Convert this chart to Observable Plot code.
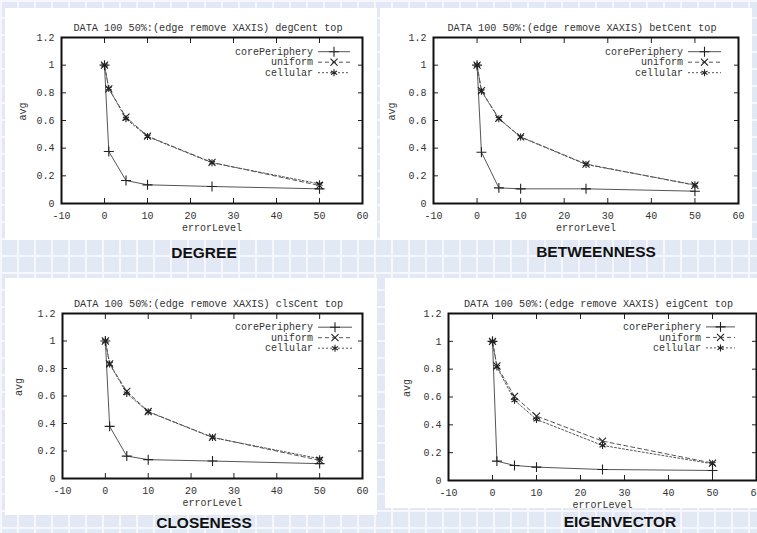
<!DOCTYPE html>
<html>
<head>
<meta charset="utf-8">
<script src="https://cdn.jsdelivr.net/npm/d3@7"></script>
<script src="https://cdn.jsdelivr.net/npm/@observablehq/plot@0.6"></script>
<style>
  html, body { margin: 0; padding: 0; }
  #page {
    position: relative; width: 757px; height: 533px; overflow: hidden;
    background-color: #e2e9f5;
    background-image:
      linear-gradient(to right, #f5f7fc 2px, transparent 2px),
      linear-gradient(to bottom, #f5f7fc 2px, transparent 2px);
    background-size: 17px 17px;
  }
  .panel { position: absolute; }
  .panel svg { display: block; }
  .caption {
    position: absolute; transform: translate(-50%, -50%);
    font-family: "Liberation Sans", Arial, sans-serif; font-weight: bold;
    font-size: 15.5px; color: #111; white-space: nowrap;
  }
</style>
</head>
<body>
<div id="page"></div>
<script>
// ---------- data ----------
const errorLevel = [0, 1, 5, 10, 25, 50];
const seriesNames = ["corePeriphery", "uniform", "cellular"];
const xTicks = [-10, 0, 10, 20, 30, 40, 50, 60];
const yTicks = [0, 0.2, 0.4, 0.6, 0.8, 1, 1.2];
const yTickLabels = ["0", "0.2", "0.4", "0.6", "0.8", "1", "1.2"];
const xLabel = "errorLevel";
const yLabel = "avg";

const titles = [
  "DATA 100 50%:(edge remove XAXIS) degCent top",
  "DATA 100 50%:(edge remove XAXIS) betCent top",
  "DATA 100 50%:(edge remove XAXIS) clsCent top",
  "DATA 100 50%:(edge remove XAXIS) eigCent top"
];
const captions = ["DEGREE", "BETWEENNESS", "CLOSENESS", "EIGENVECTOR"];

const degreeCore     = [1.0, 0.376, 0.166, 0.135, 0.123, 0.106];
const degreeUniform  = [1.0, 0.829, 0.624, 0.487, 0.297, 0.130];
const degreeCellular = [1.0, 0.832, 0.612, 0.484, 0.294, 0.142];

const betweenCore     = [1.0, 0.371, 0.113, 0.106, 0.106, 0.089];
const betweenUniform  = [1.0, 0.815, 0.615, 0.482, 0.285, 0.132];
const betweenCellular = [1.0, 0.812, 0.612, 0.480, 0.282, 0.135];

const closeCore     = [1.0, 0.379, 0.163, 0.137, 0.127, 0.108];
const closeUniform  = [1.0, 0.833, 0.634, 0.487, 0.300, 0.132];
const closeCellular = [1.0, 0.833, 0.619, 0.485, 0.298, 0.144];

const eigenCore     = [1.0, 0.139, 0.108, 0.096, 0.079, 0.072];
const eigenUniform  = [1.0, 0.823, 0.605, 0.463, 0.283, 0.125];
const eigenCellular = [1.0, 0.816, 0.576, 0.439, 0.252, 0.120];

const panelValues = [
  [degreeCore, degreeUniform, degreeCellular],
  [betweenCore, betweenUniform, betweenCellular],
  [closeCore, closeUniform, closeCellular],
  [eigenCore, eigenUniform, eigenCellular]
];

// ---------- layout / style ----------
const symbols = ["plus", "times", "asterisk"];
const dashes = [null, "4,3", "2,2"];
const d3Symbols = [d3.symbolPlus, d3.symbolTimes, d3.symbolAsterisk];
const R = 3.3;
const FONT = "'Liberation Mono', 'DejaVu Sans Mono', monospace";
const TXT = "#333";
const blank = () => "";

const layout = [
  {left: 5,   top: 8,   width: 372, height: 232, mL: 56, mR: 15, mT: 29, mB: 37, ylDx: -39, leg: [49, 44, 12], legY: 14.7, cap: [204, 253]},
  {left: 380, top: 8,   width: 372, height: 232, mL: 53, mR: 14, mT: 29, mB: 37, ylDx: -42, leg: [55, 50, 17], legY: 14.7, cap: [596, 252]},
  {left: 5,   top: 278, width: 372, height: 237, mL: 57, mR: 15, mT: 35, mB: 37, ylDx: -44, leg: [49, 44, 10], legY: 14.2, cap: [204, 523]},
  {left: 385, top: 278, width: 372, height: 230, mL: 63, mR: 1,  mT: 35, mB: 28, ylDx: -42, leg: [55, 50, 21], legY: 13.9, cap: [620, 522]}
];

const page = document.getElementById("page");

panelValues.forEach((vals, p) => {
  const L = layout[p];
  const rows = [];
  seriesNames.forEach((s, i) => vals[i].forEach((v, j) => rows.push({series: s, x: errorLevel[j], y: v})));

  const lineMarks = seriesNames.map((s, i) =>
    Plot.line(rows.filter(d => d.series === s), {
      x: "x", y: "y", stroke: "#555", strokeWidth: 1,
      strokeDasharray: dashes[i] || undefined
    })
  );

  const svg = Plot.plot({
    width: L.width, height: L.height,
    marginLeft: L.mL, marginRight: L.mR, marginTop: L.mT, marginBottom: L.mB,
    style: {fontFamily: FONT, fontSize: "10px", background: "white", color: TXT, overflow: "visible"},
    x: {domain: [-10, 60]},
    y: {domain: [0, 1.2]},
    symbol: {domain: seriesNames, range: symbols},
    marks: [
      Plot.axisX(xTicks, {anchor: "bottom", tickSize: 0, tickPadding: 8, tickFormat: d => String(d), label: null, fill: TXT}),
      Plot.axisX(xTicks, {anchor: "bottom", tickSize: 5, dy: -5, tickFormat: blank, label: null, stroke: "#222"}),
      Plot.axisX(xTicks, {anchor: "top", tickSize: 5, dy: 5, tickFormat: blank, label: null, stroke: "#222"}),
      Plot.axisY(yTicks, {anchor: "left", tickSize: 0, tickPadding: 7, tickFormat: d => yTickLabels[yTicks.indexOf(d)], label: null, fill: TXT}),
      Plot.axisY(yTicks, {anchor: "left", tickSize: 5, dx: 5, tickFormat: blank, label: null, stroke: "#222"}),
      Plot.axisY(yTicks, {anchor: "right", tickSize: 5, dx: -5, tickFormat: blank, label: null, stroke: "#222"}),
      ...lineMarks,
      Plot.dot(rows, {x: "x", y: "y", symbol: "series", r: R, fill: "none", stroke: "#222", strokeWidth: 1.1}),
      Plot.frame({stroke: "#111", strokeWidth: 2}),
      Plot.text([titles[p]], {frameAnchor: "top", dy: -14, dx: -4, text: d => d, fontSize: 10.2, fill: TXT}),
      Plot.text([xLabel], {frameAnchor: "bottom", dy: 27, text: d => d, fontSize: 10, fill: TXT}),
      Plot.text([yLabel], {frameAnchor: "left", dx: L.ylDx, rotate: -90, text: d => d, fontSize: 10, fill: TXT})
    ]
  });

  // legend (gnuplot key, top-right inside the frame)
  const right = L.width - L.mR;
  const g = d3.select(svg).append("g")
    .attr("font-family", FONT)
    .attr("font-size", 10);
  seriesNames.forEach((s, i) => {
    const y = L.mT + L.legY + i * 10.5;
    g.append("text").attr("x", right - L.leg[0]).attr("y", y).attr("dy", "0.32em")
      .attr("text-anchor", "end").attr("fill", TXT).text(s);
    g.append("line").attr("x1", right - L.leg[1]).attr("x2", right - L.leg[2])
      .attr("y1", y).attr("y2", y).attr("stroke", "#555").attr("stroke-width", 1)
      .attr("stroke-dasharray", dashes[i]);
    g.append("path").attr("d", d3.symbol(d3Symbols[i], R * R * Math.PI)())
      .attr("transform", `translate(${right - (L.leg[1] + L.leg[2]) / 2},${y})`)
      .attr("fill", "none").attr("stroke", "#222").attr("stroke-width", 1.1);
  });

  const div = document.createElement("div");
  div.className = "panel";
  div.style.left = L.left + "px";
  div.style.top = L.top + "px";
  div.appendChild(svg);
  page.appendChild(div);

  const cap = document.createElement("div");
  cap.className = "caption";
  cap.style.left = L.cap[0] + "px";
  cap.style.top = L.cap[1] + "px";
  cap.textContent = captions[p];
  page.appendChild(cap);
});
</script>
</body>
</html>
